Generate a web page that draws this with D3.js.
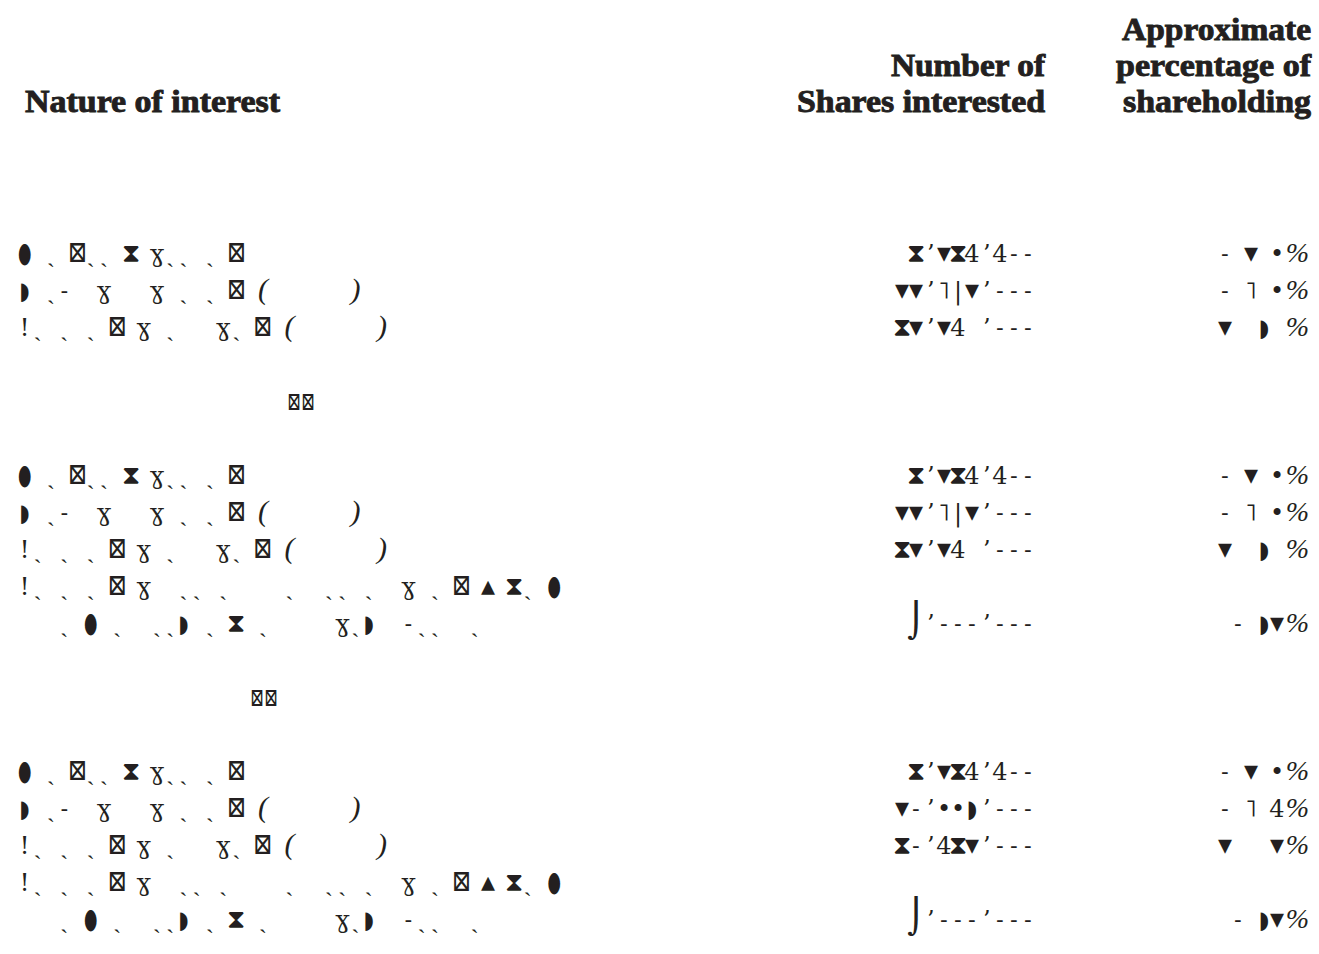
<!DOCTYPE html>
<html>
<head>
<meta charset="utf-8">
<script src="https://cdn.jsdelivr.net/npm/d3@7"></script>
<style>
  body { margin: 0; background: #fff; }
</style>
</head>
<body>
<div id="chart"></div>
<script>
"use strict";   // strict mode

// header texts
var headLeft = ["Nature of interest"];
var headShares = ["Number of", "Shares interested"];
var headPct = ["Approximate", "percentage of", "shareholding"];

// the body is printed in a broken font, so the strings keep the glyphs as they show
var groupTitles = ["", "⊠⊠", "⊠⊠"];

var rowA = "● ˏ ⊠ˎˎ ⧗ ɣˎˏ ˏ ⊠";
var rowB = "◗ ˏ˗  ɣ   ɣ ˏ ˏ ⊠ (      )";
var rowC = "!ˎ ˏ ˏ ⊠ ɣ ˎ   ɣˎ ⊠ (      )";
var rowD = ["!ˎ ˏ ˏ ⊠ ɣ  ˏˏ ˏ    ˎ  ˏˏ ˎ  ɣ ˎ ⊠ ▴ ⧗ˏ ●",
            "   ˎ ● ˏ  ˏˏ◗ ˏ ⧗ ˏ     ɣˎ◗  ˗ˏˏ  ˏ"];

var labels1 = [rowA, rowB, rowC];
var labels2 = [rowA, rowB, rowC, rowD];
var labels3 = [rowA, rowB, rowC, rowD];

// number of shares interested
var shares1 = ["⧗ʼ▾⧗4ʼ4˗˗", "▾▾ʼ˥|▾ʼ˗˗˗", "⧗▾ʼ▾4 ʼ˗˗˗"];
var shares2 = ["⧗ʼ▾⧗4ʼ4˗˗", "▾▾ʼ˥|▾ʼ˗˗˗", "⧗▾ʼ▾4 ʼ˗˗˗", "⌡ʼ˗˗˗ʼ˗˗˗"];
var shares3 = ["⧗ʼ▾⧗4ʼ4˗˗", "▾˗ʼ••◗ʼ˗˗˗", "⧗˗ʼ4⧗▾ʼ˗˗˗", "⌡ʼ˗˗˗ʼ˗˗˗"];

// approximate percentage of shareholding
var pcts1 = ["˗ ▾ •", "˗ ˥ •", "▾  ◗ "];
var pcts2 = ["˗ ▾ •", "˗ ˥ •", "▾  ◗ ", "˗ ◗▾"];
var pcts3 = ["˗ ▾ •", "˗ ˥ 4", "▾   ▾", "˗ ◗▾"];

var W = 1319, H = 954;
var ink = "#231f20";

var svg = d3.select("#chart")
  .append("svg")
  .attr("width", W)
  .attr("height", H)
  .style("background", "#fff");

// ----- header -----
var head = svg.append("g")
  .attr("font-family", "'Liberation Serif', 'Times New Roman', serif")
  .attr("font-weight", "bold")
  .attr("font-size", "31px")
  .attr("fill", ink)
  .attr("stroke", ink)
  .attr("stroke-width", 0.9);

var headY = d3.scaleLinear().domain([0, 1]).range([40, 76]);   // header line baselines

// right aligned by hand: start = right edge - width
function headText(sel, cls, data, right, widths, first) {
  sel.selectAll("text." + cls)
    .data(data)
    .join("text")
      .attr("class", cls)
      .attr("x", (d, i) => right - widths[i])
      .attr("y", (d, i) => headY(i + first))
      .attr("textLength", (d, i) => widths[i])
      .attr("lengthAdjust", "spacingAndGlyphs")
      .text(d => d);
}
headText(head, "hl", headLeft, 280, [255], 2);
headText(head, "hs", headShares, 1045, [154, 248], 1);
headText(head, "hp", headPct, 1311, [189, 195, 188], 0);

// ----- body layout: every row sits on a line grid -----
var groups = [
  { title: groupTitles[0], labels: labels1, shares: shares1, pcts: pcts1 },
  { title: groupTitles[1], labels: labels2, shares: shares2, pcts: pcts2 },
  { title: groupTitles[2], labels: labels3, shares: shares3, pcts: pcts3 }
];

var lines = [];    // label lines
var titles = [];   // group title lines
var values = [];   // shares + pct, on the row's last line
var ln = 0;
groups.forEach(function(g, gi) {
  if (gi > 0) {
    ln += 1;                                   // blank line
    titles.push({ line: ln, text: g.title, g: gi });
    ln += 2;                                   // title + blank line
  }
  g.labels.forEach(function(lab, ri) {
    var parts = Array.isArray(lab) ? lab : [lab];
    parts.forEach(function(p, pi) {
      lines.push({ line: ln + pi, text: p });
    });
    values.push({ line: ln + parts.length - 1, shares: g.shares[ri], pct: g.pcts[ri] });
    ln += parts.length;
  });
});

var lineY = d3.scaleLinear().domain([0, 1]).range([262, 299]);
var colX = d3.scaleLinear().domain([0, 1]).range([24.6, 37.84]);   // glyph cell centres

// some glyphs print larger / narrower than the rest
var glyphSize = { "⊠": 30, "●": 28, "⧗": 26, "◗": 24, "▾": 28, "▴": 28, "⌡": 34, "(": 30, ")": 30 };
var glyphSqueeze = { "●": 0.55, "⊠": 0.78, "◗": 0.8 };

var body = svg.append("g")
  .attr("font-family", "'DejaVu Serif', serif")
  .attr("font-size", "24px")
  .attr("fill", ink);

// split each string into its glyphs, keep the cell index
function glyphs(str) {
  return Array.from(str).map((c, i) => ({ c: c, i: i })).filter(d => d.c !== " ");
}
function fromRight(str) {
  var arr = Array.from(str);
  return arr.map((c, i) => ({ c: c, k: arr.length - 1 - i })).filter(g => g.c !== " ");
}
function italicish(c) { return "()".indexOf(c) >= 0; }

function drawGlyph(sel, xOf) {
  sel.attr("transform", d => "translate(" + xOf(d) + ",0) scale(" + (glyphSqueeze[d.c] || 1) + ",1)")
    .attr("text-anchor", "middle")
    .attr("font-size", d => glyphSize[d.c] ? glyphSize[d.c] + "px" : null)
    .attr("font-style", d => italicish(d.c) ? "italic" : "normal")
    .attr("font-family", d => italicish(d.c) ? "'Liberation Serif', serif" : null)
    .text(d => d.c);
}

var rows = body.selectAll("g.row")
  .data(lines)
  .join("g")
    .attr("class", "row")
    .attr("transform", d => "translate(0," + lineY(d.line) + ")");

rows.selectAll("text")
  .data(d => glyphs(d.text))
  .join("text")
    .call(drawGlyph, d => colX(d.i));

// group titles (two boxes)
var titleX = [0, 287, 250];
body.selectAll("text.title")
  .data(titles)
  .join("text")
    .attr("class", "title")
    .attr("x", d => titleX[d.g])
    .attr("y", d => lineY(d.line))
    .attr("font-size", "26px")
    .attr("textLength", 28)
    .attr("lengthAdjust", "spacingAndGlyphs")
    .text(d => d.text);

// shares and pct columns, right aligned
var shareX = d3.scaleLinear().domain([0, 1]).range([1028, 1014]);
var pctX = d3.scaleLinear().domain([0, 1]).range([1277, 1264]);

var vals = body.selectAll("g.val")
  .data(values)
  .join("g")
    .attr("class", "val")
    .attr("transform", d => "translate(0," + lineY(d.line) + ")");

vals.selectAll("text.sh")
  .data(d => fromRight(d.shares))
  .join("text")
    .attr("class", "sh")
    .call(drawGlyph, d => shareX(d.k));

vals.selectAll("text.pc")
  .data(d => fromRight(d.pct))
  .join("text")
    .attr("class", "pc")
    .call(drawGlyph, d => pctX(d.k));

vals.append("text")
  .attr("x", 1309)
  .attr("text-anchor", "end")
  .attr("font-family", "'Liberation Serif', serif")
  .attr("font-style", "italic")
  .attr("font-size", "28px")
  .text("%");
</script>
</body>
</html>
